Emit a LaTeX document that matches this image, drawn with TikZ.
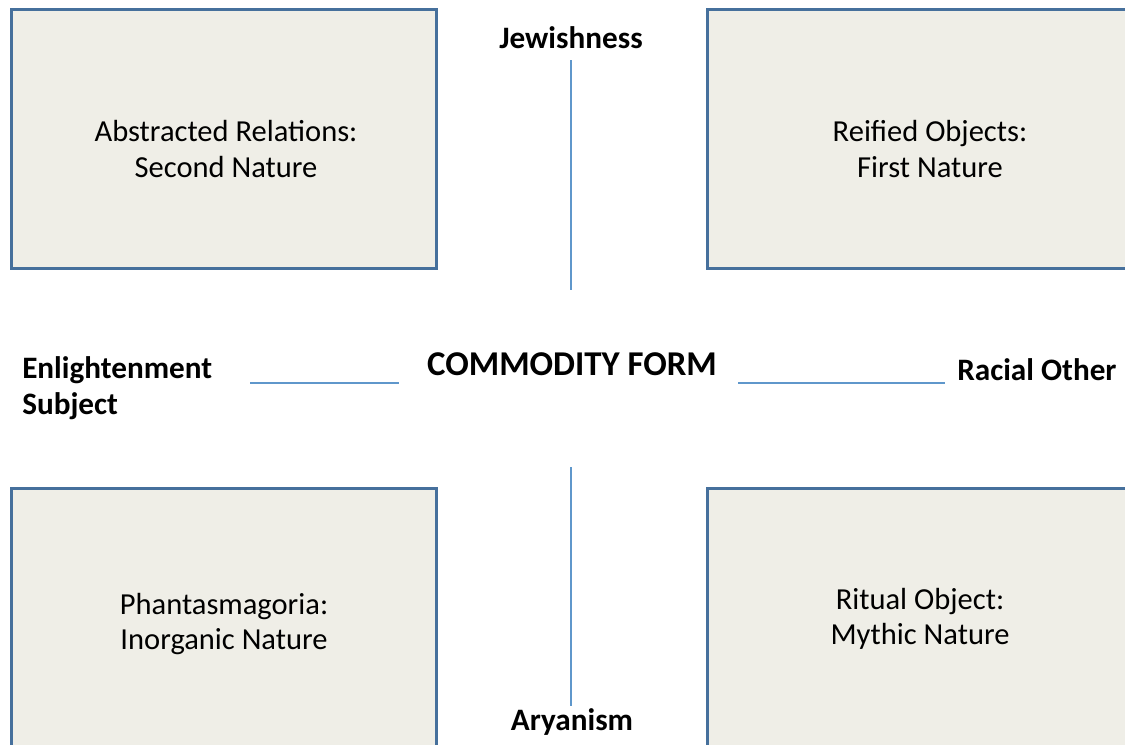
\documentclass[tikz,border=0pt]{standalone}
\usepackage{fontspec}
\setmainfont{Carlito}
\definecolor{boxfill}{HTML}{EFEEE7}
\definecolor{boxdraw}{HTML}{46709C}
\definecolor{linecol}{HTML}{5F97CB}
\begin{document}
\begin{tikzpicture}[x=0.75pt,y=-0.75pt,
  quad/.style={fill=boxfill,draw=boxdraw,line width=2.25pt},
  quadtext/.style={align=center,font=\fontsize{22.9}{26.5}\selectfont,inner sep=0pt},
  label/.style={font=\bfseries\fontsize{23.4}{27}\selectfont,inner sep=0pt},
  conn/.style={draw=linecol,line width=1.9pt}]
\useasboundingbox (0,0) rectangle (1125,744);
\clip (0,0) rectangle (1125,744);
\fill[white] (0,0) rectangle (1125,744);
% boxes
\draw[quad] (11,9) rectangle (436,268);
\draw[quad] (707,9) rectangle (1160,268);
\draw[quad] (11,488) rectangle (436,780);
\draw[quad] (707,488) rectangle (1160,780);
% box texts
\node[quadtext] (tl) at (226,149) {Abstracted Relations:\\Second Nature};
\node[quadtext] (tr) at (930,149) {Reified Objects:\\First Nature};
\node[quadtext] (bl) at (224,624) {Phantasmagoria:\\Inorganic Nature};
\node[quadtext] (br) at (920,619) {Ritual Object:\\Mythic Nature};
% labels
\node[label] (jew) at (571,38) {Jewishness};
\node[label] (ary) at (572,722) {Aryanism};
\node[label,font=\bfseries\fontsize{26.1}{30}\selectfont] (cf) at (572,364) {COMMODITY FORM};
\node[label,anchor=west,align=left] (es) at (22,388) {Enlightenment\\Subject};
\node[label,anchor=west] (ro) at (957,370) {Racial Other};
% connectors
\coordinate (t1) at (571,60); \coordinate (t2) at (571,290);
\coordinate (b1) at (571,467); \coordinate (b2) at (571,706);
\coordinate (l1) at (250,383); \coordinate (l2) at (399,383);
\coordinate (r1) at (738,383); \coordinate (r2) at (945,383);
\draw[conn] (t1) -- (t2);
\draw[conn] (b1) -- (b2);
\draw[conn] (l1) -- (l2);
\draw[conn] (r1) -- (r2);
\end{tikzpicture}
\end{document}
